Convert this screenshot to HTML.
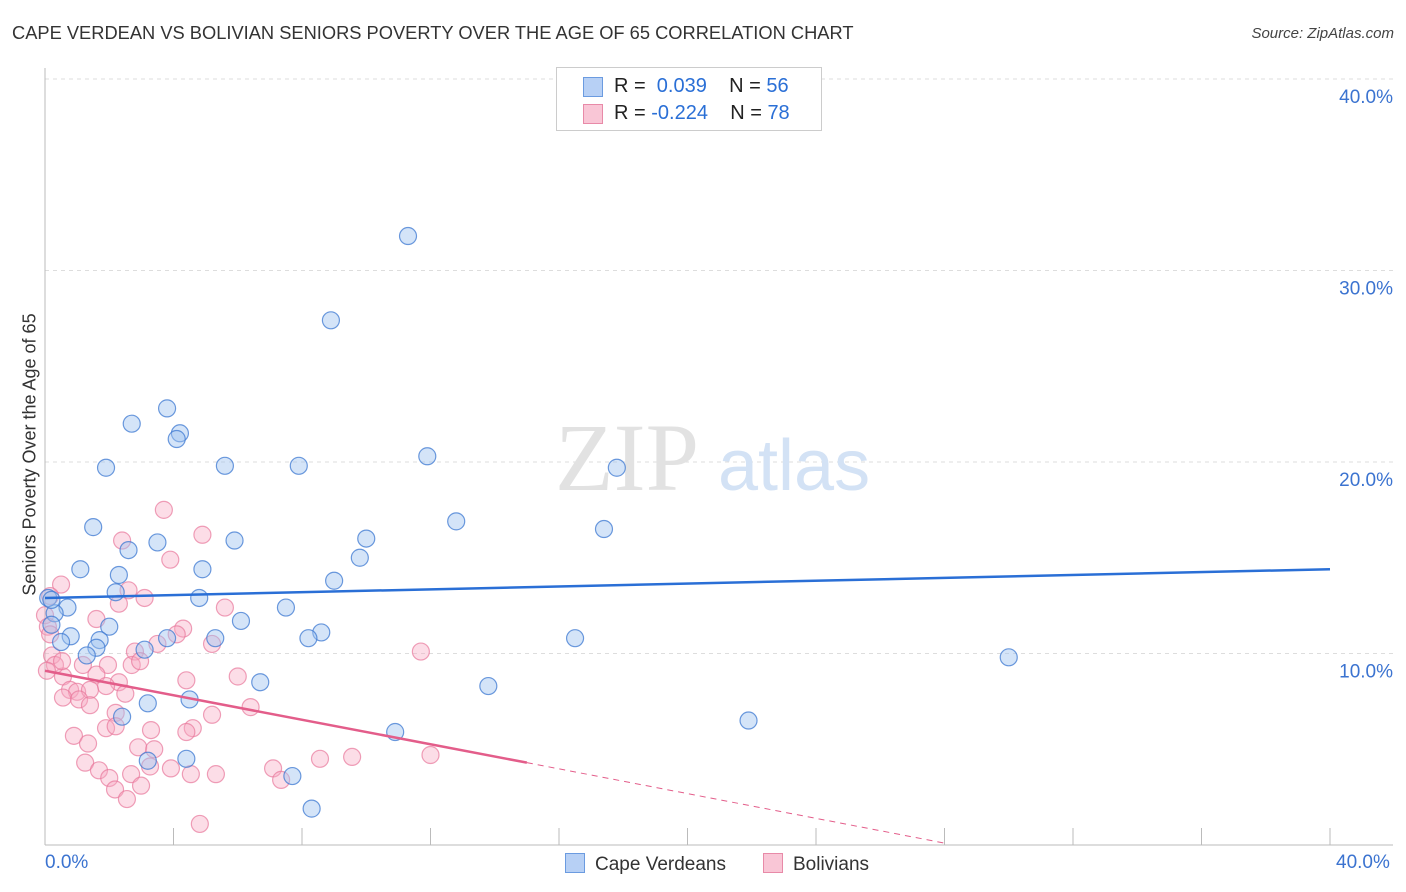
<!DOCTYPE html>
<html><head><meta charset="utf-8"><style>
body{margin:0;background:#fff;font-family:"Liberation Sans",sans-serif;}
.t{position:absolute}
</style></head><body>
<div style="position:relative;width:1406px;height:892px;overflow:hidden">
<div class="t" style="left:12px;top:22px;font-size:18.3px;color:#333;white-space:nowrap">CAPE VERDEAN VS BOLIVIAN SENIORS POVERTY OVER THE AGE OF 65 CORRELATION CHART</div>
<div class="t" style="right:12px;top:25px;font-size:15px;color:#444;font-style:italic">Source: ZipAtlas.com</div>
<svg id="c" width="1406" height="892" style="position:absolute;left:0;top:0"></svg>
</div>
<script>
const yTicks=[10,20,30,40];
const yTickLabels=["10.0%","20.0%","30.0%","40.0%"];
const blueX=[11.3,8.9,3.8,2.7,4.2,4.1,1.9,5.6,7.9,11.9,17.8,12.8,17.4,1.5,5.9,3.5,10.0,2.6,9.8,1.1,4.9,2.3,9.0,2.2,4.8,0.7,0.3,7.5,6.1,2.0,8.6,0.8,5.3,8.2,1.7,3.8,0.5,16.5,3.1,1.6,1.3,30.0,6.7,13.8,4.5,3.2,2.4,21.9,10.9,4.4,3.2,7.7,8.3,0.1,0.2,0.2];
const blueY=[31.8,27.4,22.8,22.0,21.5,21.2,19.7,19.8,19.8,20.3,19.7,16.9,16.5,16.6,15.9,15.8,16.0,15.4,15.0,14.4,14.4,14.1,13.8,13.2,12.9,12.4,12.1,12.4,11.7,11.4,11.1,10.9,10.8,10.8,10.7,10.8,10.6,10.8,10.2,10.3,9.9,9.8,8.5,8.3,7.6,7.4,6.7,6.5,5.9,4.5,4.4,3.6,1.9,12.9,12.8,11.5];
const pinkX=[3.7,4.9,2.4,3.9,0.5,2.6,2.3,3.1,5.6,1.6,4.3,4.1,3.5,5.2,2.8,2.7,1.96,1.18,1.6,0.56,4.4,6.0,2.3,1.9,0.78,1.0,1.4,2.5,0.56,1.06,1.4,2.2,5.2,6.4,1.9,2.2,4.6,4.4,3.3,0.9,1.34,2.9,3.4,1.25,1.68,2.0,2.68,3.92,4.54,5.32,7.1,7.35,8.56,3.27,2.18,2.99,2.55,4.82,0.0,0.09,0.16,0.22,0.31,0.06,0.16,0.53,11.7,12.0,9.56,2.96];
const pinkY=[17.5,16.2,15.9,14.9,13.6,13.3,12.6,12.9,12.4,11.8,11.3,11.0,10.5,10.5,10.1,9.4,9.4,9.4,8.9,8.8,8.6,8.8,8.5,8.3,8.1,8.0,8.1,7.9,7.7,7.6,7.3,6.9,6.8,7.2,6.1,6.2,6.1,5.9,6.0,5.7,5.3,5.1,5.0,4.3,3.9,3.5,3.7,4.0,3.7,3.7,4.0,3.4,4.5,4.1,2.9,3.1,2.4,1.1,12.0,11.4,11.0,9.9,9.4,9.1,13.0,9.6,10.1,4.7,4.6,9.6];
const blueTrend=[[0,12.9],[40,14.4]];
const pinkTrend=[[0,9.1],[15,4.3]];
const pinkDash=[[15,4.3],[28,0.1]];
const X0=45,X1=1330,Y0=845,Y40=79;
const sx=v=>X0+(X1-X0)*v/40, sy=v=>Y0-(Y0-Y40)*v/40;
const svg=document.getElementById('c'),NS='http://www.w3.org/2000/svg';
function mk(t,a,p){const e=document.createElementNS(NS,t);for(const k in a)e.setAttribute(k,a[k]);(p||svg).appendChild(e);return e;}
yTicks.forEach((v,i)=>{const g=mk('line',{x1:X0,x2:1393,y1:sy(v),y2:sy(v),stroke:'#ddd','stroke-dasharray':'4,4'});

const t=mk('text',{x:1393,y:sy(v)+24,'text-anchor':'end','font-size':19,fill:'#3b73d0','font-family':'Liberation Sans'});t.textContent=yTickLabels[i];
});
mk('line',{x1:X0,x2:X0,y1:68,y2:Y0,stroke:'#bbb'});
mk('line',{x1:X0,x2:1393,y1:Y0,y2:Y0,stroke:'#bbb'});
for(let i=0;i<=10;i++){const l=mk('line',{x1:sx(i*4),x2:sx(i*4),y1:Y0,y2:Y0-17,stroke:'#bbb'});}
const wm=mk('text',{x:555,y:490,'font-size':96,fill:'#e2e2e2','font-family':'Liberation Serif'});wm.textContent='ZIP';

const wm2=mk('text',{x:718,y:490,'font-size':72,fill:'#d3e2f5','font-family':'Liberation Sans'});wm2.textContent='atlas';

pinkX.forEach((v,i)=>{const c=mk('circle',{cx:sx(v),cy:sy(pinkY[i]),r:8.5,fill:'rgba(248,170,195,0.4)',stroke:'rgba(232,120,155,0.7)','stroke-width':1.2});
});
blueX.forEach((v,i)=>{const c=mk('circle',{cx:sx(v),cy:sy(blueY[i]),r:8.5,fill:'rgba(160,195,240,0.45)',stroke:'rgba(60,120,210,0.75)','stroke-width':1.2});
});
let l=mk('line',{x1:sx(blueTrend[0][0]),y1:sy(blueTrend[0][1]),x2:sx(blueTrend[1][0]),y2:sy(blueTrend[1][1]),stroke:'#2a6fd6','stroke-width':2.5});

l=mk('line',{x1:sx(pinkTrend[0][0]),y1:sy(pinkTrend[0][1]),x2:sx(pinkTrend[1][0]),y2:sy(pinkTrend[1][1]),stroke:'#e35d8a','stroke-width':2.5});

l=mk('line',{x1:sx(pinkDash[0][0]),y1:sy(pinkDash[0][1]),x2:sx(pinkDash[1][0]),y2:sy(pinkDash[1][1]),stroke:'#e35d8a','stroke-width':1,'stroke-dasharray':'6,5'});

</script>
<div class="t" style="left:-130px;top:444px;width:320px;text-align:center;transform:rotate(-90deg);font-size:18px;color:#333;white-space:nowrap">Seniors Poverty Over the Age of 65</div>
<div class="t" style="left:45px;top:852px;font-size:19px;color:#3b73d0">0.0%</div>
<div class="t" style="left:1336px;top:852px;font-size:19px;color:#3b73d0">40.0%</div>
<div class="t" style="left:556px;top:67px;width:264px;height:62px;border:1px solid #ccc;background:#fff;font-size:20px;color:#222">
 <div style="position:absolute;left:26px;top:9px;width:18px;height:18px;background:#b7d0f5;border:1px solid #6b9be0"></div>
 <div style="position:absolute;left:57px;top:7px">R = &nbsp;<span style="color:#2a6fd6">0.039</span>&nbsp;&nbsp;&nbsp; N = <span style="color:#2a6fd6">56</span></div>
 <div style="position:absolute;left:26px;top:36px;width:18px;height:18px;background:#f9c6d6;border:1px solid #e88aa8"></div>
 <div style="position:absolute;left:57px;top:34px">R = <span style="color:#2a6fd6">-0.224</span>&nbsp;&nbsp;&nbsp; N = <span style="color:#2a6fd6">78</span></div>
</div>
<div class="t" style="left:565px;top:853px;font-size:19px;color:#333"><span style="display:inline-block;width:18px;height:18px;background:#b7d0f5;border:1px solid #6b9be0;vertical-align:-3px;margin-right:10px"></span>Cape Verdeans</div>
<div class="t" style="left:763px;top:853px;font-size:19px;color:#333"><span style="display:inline-block;width:18px;height:18px;background:#f9c6d6;border:1px solid #e88aa8;vertical-align:-3px;margin-right:10px"></span>Bolivians</div>
</body></html>
